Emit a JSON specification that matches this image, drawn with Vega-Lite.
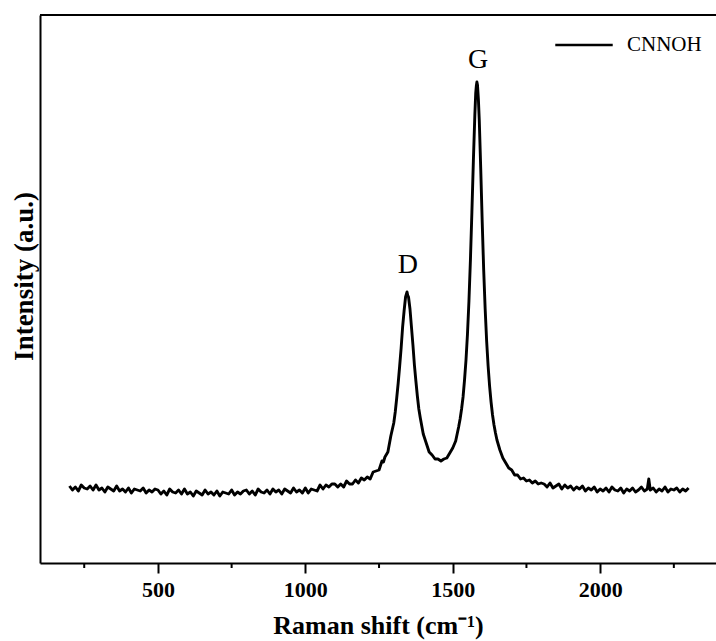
{
  "$schema": "https://vega.github.io/schema/vega-lite/v6.json",
  "width": 676,
  "height": 548,
  "autosize": "none",
  "padding": {"left": 40, "top": 15, "right": 0, "bottom": 78},
  "background": "white",
  "config": {"view": {"stroke": null}, "font": "Liberation Serif"},
  "datasets": {
    "spec": [
      {"w":200,"i":77},{"w":210,"i":73},{"w":220,"i":76},{"w":230,"i":72},{"w":240,"i":78},{"w":250,"i":75},{"w":260,"i":74},{"w":270,"i":77},{"w":280,"i":73},{"w":290,"i":78},
      {"w":300,"i":73},{"w":310,"i":75},{"w":320,"i":71},{"w":330,"i":76},{"w":340,"i":74},{"w":350,"i":72},{"w":360,"i":77},{"w":370,"i":72},{"w":380,"i":74},{"w":390,"i":71},
      {"w":400,"i":75},{"w":410,"i":70},{"w":420,"i":74},{"w":430,"i":73},{"w":440,"i":72},{"w":450,"i":75},{"w":460,"i":70},{"w":470,"i":73},{"w":480,"i":71},{"w":490,"i":74},
      {"w":500,"i":73},{"w":510,"i":69},{"w":520,"i":72},{"w":530,"i":68},{"w":540,"i":74},{"w":550,"i":71},{"w":560,"i":70},{"w":570,"i":73},{"w":580,"i":69},{"w":590,"i":74},
      {"w":600,"i":69},{"w":610,"i":71},{"w":620,"i":67},{"w":630,"i":72},{"w":640,"i":70},{"w":650,"i":68},{"w":660,"i":73},{"w":670,"i":69},{"w":680,"i":71},{"w":690,"i":68},
      {"w":700,"i":72},{"w":710,"i":67},{"w":720,"i":71},{"w":730,"i":70},{"w":740,"i":69},{"w":750,"i":73},{"w":760,"i":68},{"w":770,"i":71},{"w":780,"i":69},{"w":790,"i":72},
      {"w":800,"i":73},{"w":810,"i":69},{"w":820,"i":72},{"w":830,"i":68},{"w":840,"i":74},{"w":850,"i":71},{"w":860,"i":70},{"w":870,"i":73},{"w":880,"i":69},{"w":890,"i":74},
      {"w":900,"i":71},{"w":910,"i":73},{"w":920,"i":69},{"w":930,"i":74},{"w":940,"i":72},{"w":950,"i":70},{"w":960,"i":75},{"w":970,"i":71},{"w":980,"i":73},{"w":990,"i":70},
      {"w":1000,"i":75},{"w":1010,"i":70},{"w":1020,"i":74},{"w":1030,"i":73},{"w":1040,"i":72},{"w":1050,"i":78},{"w":1060,"i":74},{"w":1070,"i":78},{"w":1080,"i":76},{"w":1090,"i":79},
      {"w":1100,"i":79},{"w":1110,"i":76},{"w":1120,"i":79},{"w":1130,"i":76},{"w":1140,"i":82},{"w":1150,"i":79},{"w":1160,"i":79},{"w":1170,"i":83},{"w":1180,"i":80},{"w":1190,"i":85},
      {"w":1200,"i":83},{"w":1210,"i":86},{"w":1220,"i":84},{"w":1230,"i":91},{"w":1240,"i":92},{"w":1250,"i":93},{"w":1260,"i":102},{"w":1265,"i":101},{"w":1270,"i":106},{"w":1280,"i":111},
      {"w":1290,"i":127},{"w":1300,"i":140},{"w":1305,"i":151},{"w":1310,"i":165},{"w":1315,"i":180},{"w":1320,"i":197},{"w":1325,"i":215},{"w":1330,"i":236},{"w":1335,"i":252},{"w":1340,"i":266},
      {"w":1343,"i":269},{"w":1345,"i":271},{"w":1347,"i":268},{"w":1350,"i":266},{"w":1355,"i":254},{"w":1360,"i":236},{"w":1365,"i":218},{"w":1370,"i":198},{"w":1375,"i":182},{"w":1380,"i":167},
      {"w":1385,"i":154},{"w":1390,"i":145},{"w":1400,"i":129},{"w":1410,"i":120},{"w":1420,"i":111},{"w":1430,"i":108},{"w":1440,"i":104},{"w":1450,"i":104},{"w":1460,"i":102},{"w":1470,"i":104},
      {"w":1480,"i":105},{"w":1490,"i":110},{"w":1500,"i":115},{"w":1510,"i":122},{"w":1520,"i":136},{"w":1525,"i":144},{"w":1530,"i":154},{"w":1535,"i":166},{"w":1540,"i":183},{"w":1545,"i":203},
      {"w":1550,"i":229},{"w":1555,"i":262},{"w":1560,"i":303},{"w":1565,"i":351},{"w":1570,"i":402},{"w":1575,"i":448},{"w":1578,"i":470},{"w":1580,"i":477},{"w":1582,"i":481},{"w":1584,"i":478},
      {"w":1587,"i":464},{"w":1590,"i":443},{"w":1595,"i":394},{"w":1600,"i":341},{"w":1605,"i":293},{"w":1610,"i":254},{"w":1615,"i":222},{"w":1620,"i":197},{"w":1625,"i":177},{"w":1630,"i":161},
      {"w":1635,"i":148},{"w":1640,"i":138},{"w":1645,"i":130},{"w":1650,"i":123},{"w":1660,"i":113},{"w":1670,"i":105},{"w":1680,"i":100},{"w":1690,"i":95},{"w":1700,"i":93},{"w":1710,"i":88},
      {"w":1720,"i":88},{"w":1730,"i":84},{"w":1740,"i":85},{"w":1750,"i":82},{"w":1760,"i":83},{"w":1770,"i":80},{"w":1780,"i":82},{"w":1790,"i":79},{"w":1800,"i":80},
      {"w":1810,"i":79},{"w":1820,"i":76},{"w":1830,"i":80},{"w":1840,"i":75},{"w":1850,"i":77},{"w":1860,"i":79},{"w":1870,"i":74},{"w":1880,"i":78},{"w":1890,"i":75},{"w":1900,"i":77},
      {"w":1910,"i":73},{"w":1920,"i":76},{"w":1930,"i":74},{"w":1940,"i":77},{"w":1950,"i":72},{"w":1960,"i":75},{"w":1970,"i":73},{"w":1980,"i":76},{"w":1990,"i":71},{"w":2000,"i":74},
      {"w":2010,"i":72},{"w":2020,"i":75},{"w":2030,"i":71},{"w":2040,"i":76},{"w":2050,"i":73},{"w":2060,"i":72},{"w":2070,"i":75},{"w":2080,"i":70},{"w":2090,"i":74},{"w":2100,"i":72},
      {"w":2110,"i":75},{"w":2120,"i":71},{"w":2130,"i":73},{"w":2140,"i":76},{"w":2150,"i":72},{"w":2160,"i":74},{"w":2165,"i":84},{"w":2170,"i":73},{"w":2180,"i":75},{"w":2190,"i":71},
      {"w":2200,"i":74},{"w":2210,"i":72},{"w":2220,"i":76},{"w":2230,"i":71},{"w":2240,"i":74},{"w":2250,"i":73},{"w":2260,"i":75},{"w":2270,"i":71},{"w":2280,"i":74},{"w":2290,"i":72},{"w":2300,"i":75}
    ],
    "peaks": [
      {"label": "D", "w": 1348, "i": 298},
      {"label": "G", "w": 1586, "i": 503}
    ],
    "minor": [
      {"w": 250}, {"w": 750}, {"w": 1250}, {"w": 1750}, {"w": 2250}
    ]
  },
  "layer": [
    {
      "data": {"name": "spec"},
      "mark": {"type": "line", "strokeWidth": 2.9, "strokeJoin": "round"},
      "encoding": {
        "x": {
          "field": "w", "type": "quantitative",
          "scale": {"domain": [100, 2393], "nice": false, "zero": false},
          "axis": {
            "values": [500, 1000, 1500, 2000],
            "format": "d",
            "title": "Raman shift (cm⁻¹)",
            "grid": false,
            "domainColor": "black", "domainWidth": 2,
            "tickColor": "black", "tickWidth": 2, "tickSize": 10,
            "labelFont": "Liberation Serif", "labelFontWeight": "bold", "labelFontSize": 22, "labelColor": "black", "labelPadding": 6,
            "titleFont": "Liberation Serif", "titleFontWeight": "bold", "titleFontSize": 26, "titleColor": "black", "titlePadding": 12
          }
        },
        "y": {
          "field": "i", "type": "quantitative",
          "scale": {"domain": [0, 548], "nice": false},
          "axis": {
            "title": "Intensity (a.u.)",
            "grid": false, "ticks": false, "labels": false,
            "domainColor": "black", "domainWidth": 2,
            "titleFont": "Liberation Serif", "titleFontWeight": "bold", "titleFontSize": 27, "titleColor": "black",
            "titleX": -16, "titleY": 261, "titleAngle": -90, "titleAlign": "center", "titleBaseline": "middle"
          }
        },
        "color": {
          "datum": "CNNOH", "type": "nominal",
          "scale": {"range": ["black"]},
          "legend": {
            "orient": "none", "legendX": 514, "legendY": 0, "title": null, "padding": 0,
            "symbolType": "stroke", "symbolSize": 3300, "symbolStrokeWidth": 2.5, "symbolStrokeColor": "black",
            "labelFont": "Liberation Serif", "labelFontSize": 21, "labelColor": "black", "labelOffset": 13
          }
        }
      }
    },
    {
      "data": {"name": "minor"},
      "mark": {"type": "rule", "color": "black", "strokeWidth": 2},
      "encoding": {
        "x": {"field": "w", "type": "quantitative"},
        "y": {"datum": 0},
        "y2": {"datum": -5}
      }
    },
    {
      "data": {"values": [{}]},
      "mark": {"type": "rule", "color": "black", "strokeWidth": 2},
      "encoding": {"y": {"datum": 548}}
    },
    {
      "data": {"name": "peaks"},
      "mark": {"type": "text", "font": "Liberation Serif", "fontSize": 28, "color": "black", "baseline": "middle", "align": "center"},
      "encoding": {
        "x": {"field": "w", "type": "quantitative"},
        "y": {"field": "i", "type": "quantitative"},
        "text": {"field": "label"}
      }
    }
  ]
}
